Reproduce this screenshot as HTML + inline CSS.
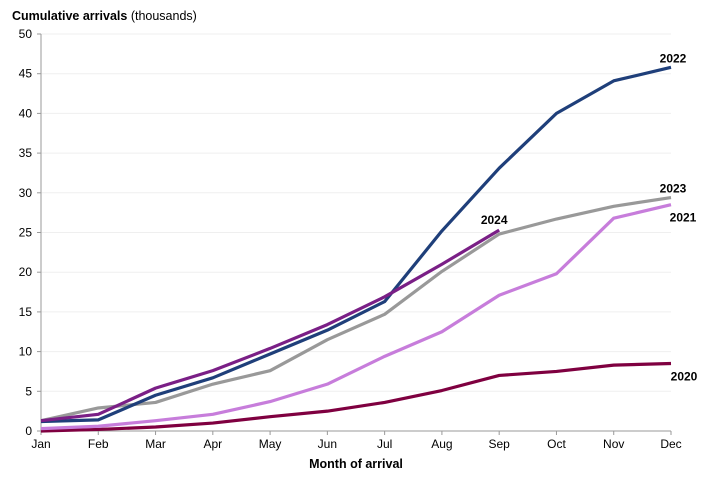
<!DOCTYPE html>
<html><head><meta charset="utf-8"><style>
body{margin:0;background:#fff;font-family:"Liberation Sans",Arial,sans-serif}
svg text{font-family:"Liberation Sans",Arial,sans-serif}
</style></head><body>
<svg id="chart" width="726" height="488" xmlns="http://www.w3.org/2000/svg">
<text x="12" y="20" font-size="12.5"><tspan font-weight="bold">Cumulative arrivals</tspan> (thousands)</text>
<text x="356" y="468" font-size="12.5" font-weight="bold" text-anchor="middle">Month of arrival</text>
<g id="grid"></g><g id="axes"></g><g id="lines"></g><g id="labels"></g>
</svg>
<script>
const months=["Jan","Feb","Mar","Apr","May","Jun","Jul","Aug","Sep","Oct","Nov","Dec"];
const yTicks=[0,5,10,15,20,25,30,35,40,45,50];
const s2020=[0,0.2,0.5,1.0,1.8,2.5,3.6,5.1,7.0,7.5,8.3,8.5];
const s2021=[0.3,0.6,1.3,2.1,3.7,5.9,9.4,12.5,17.1,19.8,26.8,28.5];
const s2022=[1.2,1.4,4.5,6.7,9.7,12.7,16.3,25.2,33.1,40.0,44.1,45.8];
const s2023=[1.3,2.9,3.6,5.9,7.6,11.5,14.7,20.1,24.8,26.7,28.3,29.4];
const s2024=[1.3,2.1,5.4,7.6,10.4,13.4,16.9,21.0,25.3];
const NS="http://www.w3.org/2000/svg";
const X0=41,X1=671,Y0=431,Y1=34,YMAX=50;
const xs=i=>X0+i*(X1-X0)/(months.length-1);
const ys=v=>Y0-v*(Y0-Y1)/YMAX;
function mk(tag,attrs,parent){const e=document.createElementNS(NS,tag);for(const k in attrs)e.setAttribute(k,attrs[k]);parent.appendChild(e);return e;}
const grid=document.getElementById('grid'),axes=document.getElementById('axes'),lines=document.getElementById('lines'),labels=document.getElementById('labels');
yTicks.forEach(t=>{
  if(t>0){const g=mk('line',{x1:X0,x2:X1,y1:ys(t),y2:ys(t),stroke:'#efefef','stroke-width':1},grid);
  
  }
  const tk=mk('line',{x1:X0-4,x2:X0,y1:ys(t),y2:ys(t),stroke:'#999'},axes);
  
  
  const tx=mk('text',{x:X0-9,y:ys(t)+4,'font-size':12,'text-anchor':'end',fill:'#000'},axes);tx.textContent=t;
  
  
});
const ya=mk('line',{x1:X0,x2:X0,y1:Y1,y2:Y0,stroke:'#999'},axes);


const xa=mk('line',{x1:X0,x2:X1,y1:Y0,y2:Y0,stroke:'#999'},axes);


months.forEach((m,i)=>{
  const tk=mk('line',{x1:xs(i),x2:xs(i),y1:Y0,y2:Y0+4,stroke:'#999'},axes);
  
  
  const tx=mk('text',{x:xs(i),y:Y0+17,'font-size':12,'text-anchor':'middle'},axes);tx.textContent=m;
  
  
});
const series=[
 {n:'2020',d:s2020,c:'#7f0040',lx:13,ly:17},
 {n:'2021',d:s2021,c:'#c77ddb',lx:12,ly:17},
 {n:'2023',d:s2023,c:'#999999',lx:2,ly:-5},
 {n:'2022',d:s2022,c:'#1f3f7a',lx:2,ly:-5},
 {n:'2024',d:s2024,c:'#7a1f86',lx:-5,ly:-6}
];
series.forEach(s=>{
  const pts=s.d.map((v,i)=>xs(i)+','+ys(v)).join(' ');
  const p=mk('polyline',{points:pts,fill:'none',stroke:s.c,'stroke-width':3.2,'stroke-linejoin':'round'},lines);
  
  
  const li=s.d.length-1;
  const t=mk('text',{x:xs(li)+s.lx,y:ys(s.d[li])+s.ly,'font-size':12,'font-weight':'bold','text-anchor':'middle'},labels);t.textContent=s.n;
  
  
});
</script>
</body></html>
